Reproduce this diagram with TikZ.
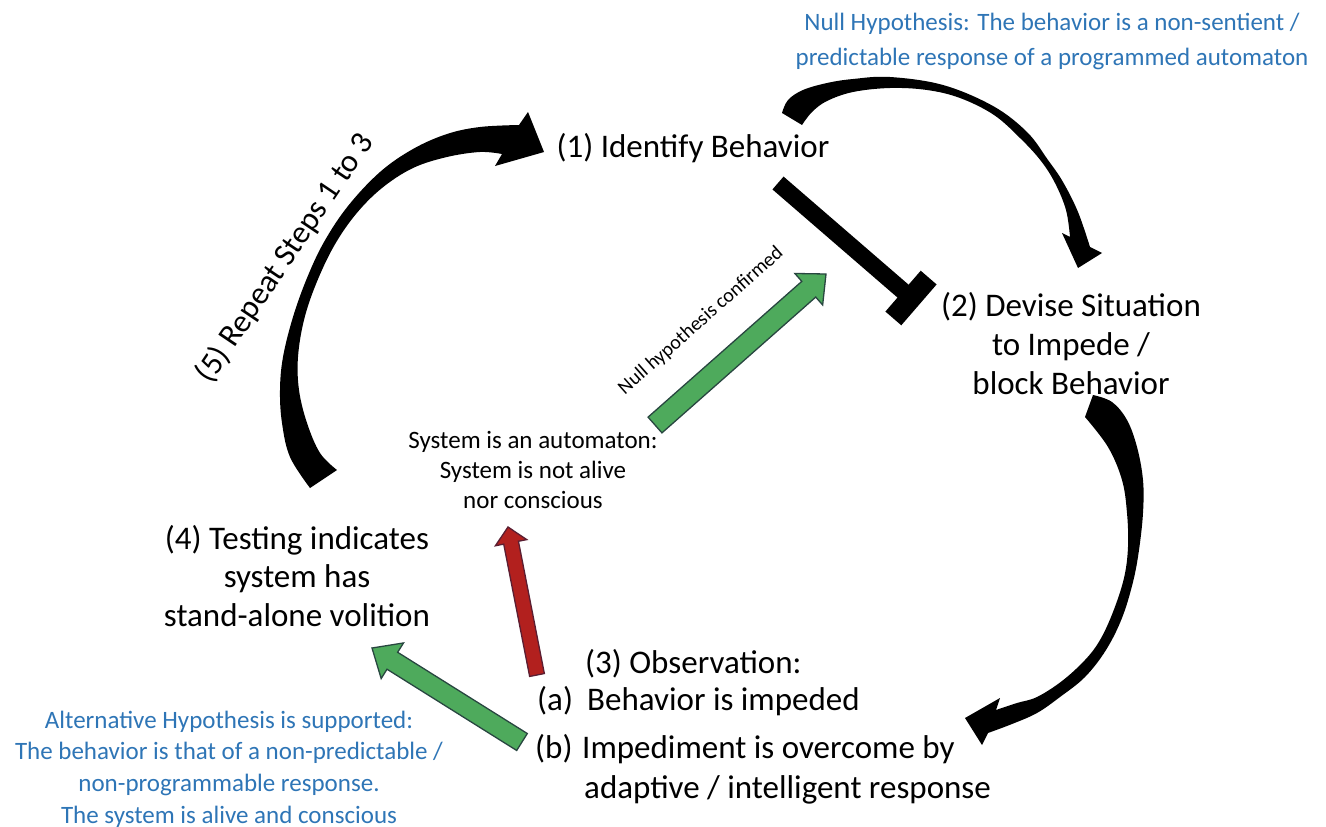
\documentclass[tikz,border=0pt]{standalone}
\usepackage{fontspec}
\setmainfont{Carlito}
\usetikzlibrary{calc}
\definecolor{hypblue}{RGB}{46,117,182}
\definecolor{arrgreen}{RGB}{78,170,92}
\definecolor{arrgreenedge}{RGB}{40,70,64}
\definecolor{arrred}{RGB}{178,32,30}
\definecolor{arrrededge}{RGB}{90,30,50}
% #1 style, #2 tail, #3 tip, #4 half shaft width, #5 half head width, #6 head length
\newcommand\fatarrow[6]{%
  \coordinate (fa-h) at ($(#3)!#6!(#2)$);
  \path[#1] ($(#2)!#4!90:(#3)$) -- ($(fa-h)!#4!90:(#3)$) -- ($(fa-h)!#5!90:(#3)$)
    -- (#3) -- ($(fa-h)!#5!-90:(#3)$) -- ($(fa-h)!#4!-90:(#3)$)
    -- ($(#2)!#4!-90:(#3)$) -- cycle;}
\begin{document}
\begin{tikzpicture}[x=1pt,y=-1pt,
  big/.style={font=\fontsize{33}{39}\selectfont, align=center, inner sep=0pt},
  mid/.style={font=\fontsize{25}{30}\selectfont, align=center, inner sep=0pt},
  hyp/.style={font=\fontsize{25}{35}\selectfont, align=center, inner sep=0pt, text=hypblue},
  obsline/.style={font=\fontsize{33}{39}\selectfont, anchor=west, inner sep=0pt, text height=0.75em, text depth=0.25em},
  garrow/.style={fill=arrgreen, draw=arrgreenedge, line width=1.3pt, line join=miter},
  rarrow/.style={fill=arrred, draw=arrrededge, line width=1.3pt, line join=miter},
  curvearrow/.style={fill=black},
  inhib/.style={draw=black, line cap=butt}
]
\useasboundingbox (0,0) rectangle (1326,827);

% texts
\node[hyp] (nullh) at (1052,41) {Null Hypothesis: The behavior is a non-sentient /\\predictable response of a programmed automaton};
\node[big] (n1) at (693,148) {(1) Identify Behavior};
\node[big] (n2) at (1071,344) {(2) Devise Situation\\to Impede /\\block Behavior};
\node[big, font=\fontsize{33}{38.5}\selectfont] (n4) at (297,576) {(4) Testing indicates\\system has\\stand-alone volition};
\node[mid] (auto) at (533,470) {System is an automaton:\\System is not alive\\nor conscious};
\node[hyp, font=\fontsize{25}{31.7}\selectfont] (alth) at (229,769) {Alternative Hypothesis is supported:\\The behavior is that of a non-predictable /\\non-programmable response.\\The system is alive and conscious};
\node[obsline] (obs) at (585,671) {(3) Observation:};
\node[obsline] (obsa) at (537,708) {(a)};
\node[obsline] (obsat) at (587,708) {Behavior is impeded};
\node[obsline] (obsb) at (535,756) {(b)};
\node[obsline] (obsbt) at (582,756) {Impediment is overcome by};
\node[obsline] (obsbt2) at (584,796) {adaptive / intelligent response};
\node[font=\fontsize{32}{38}\selectfont, inner sep=0pt, rotate=56] (rep) at (285,258) {(5) Repeat Steps 1 to 3};
\node[font=\fontsize{20}{24}\selectfont, inner sep=0pt, rotate=41.5] (nhc) at (701,321) {Null hypothesis confirmed};

% curved arrow (5): from (4) back to (1)
\fill[curvearrow] plot[smooth, tension=0.6] coordinates {(310,488) (290,457) (282,423) (280,390) (283,357) (293,317) (307,278) (324,242) (348,206) (380,172) (413,149) (447,134) (480,127) (519,125)}
  -- (528,112) -- (544,152) -- (495,166)
  -- plot[smooth, tension=0.6] coordinates {(502,154) (480,152) (447,157) (413,168) (382,188) (356,214) (334,246) (316,284) (304,320) (298,357) (299,390) (307,423) (320,453) (337,470)} -- cycle;

% curved arrow from (1) to (2)
\fill[curvearrow] plot[smooth, tension=0.6] coordinates {(782,113) (788,100) (803,90) (827,83) (853,79) (890,77) (943,85) (993,106) (1027,132) (1048,160) (1063,182) (1078,212) (1090,247)}
  -- (1102,253) -- (1078,268) -- (1062,233)
  -- plot[smooth, tension=0.6] coordinates {(1070,237) (1066,210) (1055,183) (1041,161) (1021,139) (994,115) (960,98) (927,90) (890,88) (853,92) (827,101) (812,112) (802,125)} -- cycle;

% curved arrow from (2) to (3)
\fill[curvearrow] plot[smooth, tension=0.6] coordinates {(1093,395) (1112,402) (1127,420) (1137,447) (1143,480) (1143,513) (1139,550) (1133,582) (1122,618) (1106,650) (1085,677) (1060,697) (1037,713) (1012,724) (988,733)}
  -- (982,745) -- (965,718) -- (1000,698)
  -- plot[smooth, tension=0.6] coordinates {(996,710) (1017,703) (1037,697) (1062,681) (1085,660) (1100,640) (1113,612) (1124,578) (1128,547) (1127,513) (1122,480) (1108,447) (1085,417)} -- cycle;

% inhibition bar from (1) to (2)
\coordinate (tbs) at (778,183);
\coordinate (tbe) at (911,298);
\draw[inhib, line width=17pt] (tbs) -- (tbe);
\draw[inhib, line width=21pt] ($(tbe)!27pt!90:(tbs)$) -- ($(tbe)!27pt!-90:(tbs)$);

% green arrow: null hypothesis confirmed
\coordinate (g1a) at (655,425);
\coordinate (g1b) at (826,274);
\fatarrow{garrow}{g1a}{g1b}{10.5pt}{21pt}{23pt}

% red arrow: (a) -> automaton
\coordinate (ra) at (537,675);
\coordinate (rb) at (508,527);
\fatarrow{rarrow}{ra}{rb}{7.5pt}{16pt}{16pt}

% green arrow: (b) -> (4)
\coordinate (g2a) at (522,742);
\coordinate (g2b) at (372,648);
\fatarrow{garrow}{g2a}{g2b}{10pt}{21pt}{24pt}
\end{tikzpicture}
\end{document}
